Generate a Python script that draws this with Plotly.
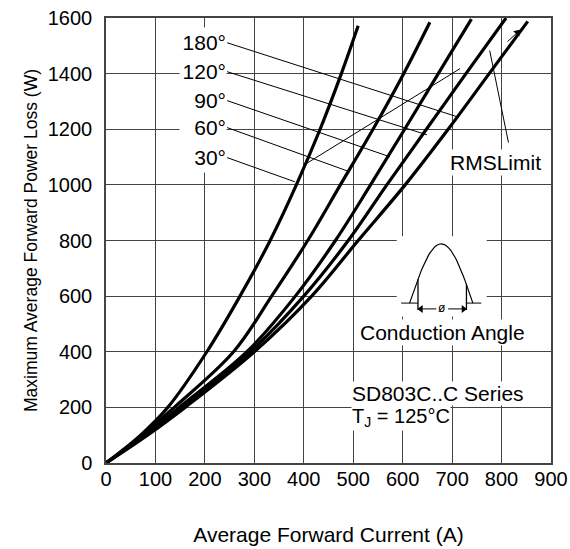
import math
import plotly.graph_objects as go

# ---- data ----
P_pts = [0, 100, 200, 400, 600, 800, 1000, 1200, 1400]
I_30 = [0, 70, 125, 204, 271, 332, 385, 433, 476, 510]
P_30 = P_pts + [1572]
I_60 = [0, 74, 138, 258, 335, 408, 474, 540, 602, 655]
P_60 = P_pts + [1585]
I_90 = [0, 78, 148, 285, 383, 464, 535, 604, 672, 739]
P_90 = P_pts + [1596]
I_120 = [0, 80, 154, 292, 400, 490, 568, 648, 728, 809]
P_120 = P_pts + [1600]
I_180 = [0, 84, 160, 300, 416, 510, 605, 692, 775, 853]
P_180 = P_pts + [1588]

angle_labels = ["180°", "120°", "90°", "60°", "30°"]
label_P = [1511, 1407, 1303, 1206, 1098]
leader_end_I = [710, 649, 574, 493, 382]
leader_end_P = [1245, 1180, 1101, 1047, 1011]
rms_line_I = [402, 716]
rms_line_P = [1073, 1418]

x_ticks = list(range(0, 901, 100))
y_ticks = list(range(0, 1601, 200))

FONT = "Liberation Sans, Arial, sans-serif"
LINE = dict(color="black", width=1)

fig = go.Figure()
for I, P in [(I_30, P_30), (I_60, P_60), (I_90, P_90), (I_120, P_120), (I_180, P_180)]:
    fig.add_trace(go.Scatter(x=I, y=P, mode="lines",
                             line=dict(color="black", width=3.2, shape="spline", smoothing=1.0),
                             showlegend=False, hoverinfo="skip"))

# inset icon: half-sine conduction waveform (decoration)
xs0, xs1, base, peak = 614, 742, 575, 788
sx = [xs0 + (xs1 - xs0) * k / 40 for k in range(41)]
sy = [base + (peak - base) * math.sin(math.pi * k / 40) for k in range(41)]
fig.add_trace(go.Scatter(x=sx, y=sy, mode="lines", line=dict(color="black", width=1.2),
                         showlegend=False, hoverinfo="skip"))
fig.add_trace(go.Scatter(x=[637, 723], y=[554, 554], mode="markers",
                         marker=dict(symbol=["triangle-left", "triangle-right"], size=7, color="black"),
                         showlegend=False, hoverinfo="skip"))
fig.add_trace(go.Scatter(x=[812, 832], y=[1515, 1548], mode="lines", line=LINE,
                         showlegend=False, hoverinfo="skip"))
fig.add_trace(go.Scatter(x=[832], y=[1548], mode="markers",
                         marker=dict(symbol="triangle-up", angle=40, size=7, color="black"),
                         showlegend=False, hoverinfo="skip"))

shapes = []
shapes.append(dict(type="rect", xref="x", yref="y", x0=588, x1=770, y0=527, y1=815,
                   fillcolor="white", line=dict(width=0), layer="between"))
for lp, ei, ep in zip(label_P, leader_end_I, leader_end_P):
    shapes.append(dict(type="line", xref="x", yref="y", x0=245, y0=lp, x1=ei, y1=ep, line=LINE))
shapes.append(dict(type="line", xref="x", yref="y", x0=rms_line_I[0], y0=rms_line_P[0],
                   x1=rms_line_I[1], y1=rms_line_P[1], line=LINE))
shapes.append(dict(type="line", xref="x", yref="y", x0=776, y0=1483, x1=814, y1=1152, line=LINE))
shapes += [
    dict(type="line", xref="x", yref="y", x0=597, y0=575, x1=631, y1=575, line=LINE),
    dict(type="line", xref="x", yref="y", x0=729, y0=575, x1=759, y1=575, line=LINE),
    dict(type="line", xref="x", yref="y", x0=631, y0=550, x1=631, y1=661, line=dict(color="black", width=1.3)),
    dict(type="line", xref="x", yref="y", x0=729, y0=550, x1=729, y1=642, line=dict(color="black", width=1.3)),
    dict(type="line", xref="x", yref="y", x0=635, y0=554, x1=668, y1=554, line=LINE),
    dict(type="line", xref="x", yref="y", x0=692, y0=554, x1=725, y1=554, line=LINE),
]
fig.update_layout(shapes=shapes)

ann = []
for txt, lp in zip(angle_labels, label_P):
    ann.append(dict(x=245, y=lp, xref="x", yref="y", text=txt, showarrow=False,
                    xanchor="right", yanchor="middle", width=46, height=29, align="right",
                    bgcolor="white", borderpad=0,
                    font=dict(family=FONT, size=21, color="black")))
ann.append(dict(x=680, y=558, xref="x", yref="y", text="ø", showarrow=False,
                font=dict(family=FONT, size=12, color="black")))
ann.append(dict(x=680, y=470, xref="x", yref="y", text="Conduction Angle", showarrow=False,
                bgcolor="white", font=dict(family=FONT, size=21, color="black")))
ann.append(dict(x=496, y=250, xref="x", yref="y", text="SD803C..C Series", showarrow=False,
                xanchor="left", bgcolor="white", borderpad=0,
                font=dict(family=FONT, size=21, color="black")))
ann.append(dict(x=496, y=162, xref="x", yref="y", text="T<sub>J</sub> = 125°C", showarrow=False,
                xanchor="left", bgcolor="white", borderpad=0,
                font=dict(family=FONT, size=20, color="black")))
ann.append(dict(x=787, y=1080, xref="x", yref="y", text="RMSLimit", showarrow=False,
                bgcolor="white", font=dict(family=FONT, size=21, color="black")))

fig.update_layout(
    annotations=ann,
    width=570, height=549,
    margin=dict(l=106, r=19, t=18, b=86),
    paper_bgcolor="white", plot_bgcolor="white",
    font=dict(family=FONT, color="black"),
    xaxis=dict(range=[0, 900], tickvals=x_ticks, showgrid=True, gridcolor="#444", gridwidth=1,
               showline=True, linecolor="#444", linewidth=1.5, mirror=True, zeroline=False,
               automargin=False, ticklabeloverflow="allow",
               ticks="", ticklabelstandoff=-3, tickfont=dict(size=20, family=FONT),
               title=dict(text="Average Forward Current (A)", font=dict(size=21, family=FONT), standoff=39)),
    yaxis=dict(range=[0, 1600], tickvals=y_ticks, showgrid=True, gridcolor="#444", gridwidth=1,
               showline=True, linecolor="#444", linewidth=1.5, mirror=True, zeroline=False,
               automargin=False, ticklabeloverflow="allow",
               ticks="", ticklabelstandoff=8, tickfont=dict(size=20, family=FONT),
               title=dict(text="Maximum Average Forward Power Loss (W)", font=dict(size=17.5, family=FONT), standoff=6)),
)
fig.write_html("out.html", config={"displayModeBar": False},
               post_script="document.body.style.margin='0';document.body.style.overflow='hidden';")
